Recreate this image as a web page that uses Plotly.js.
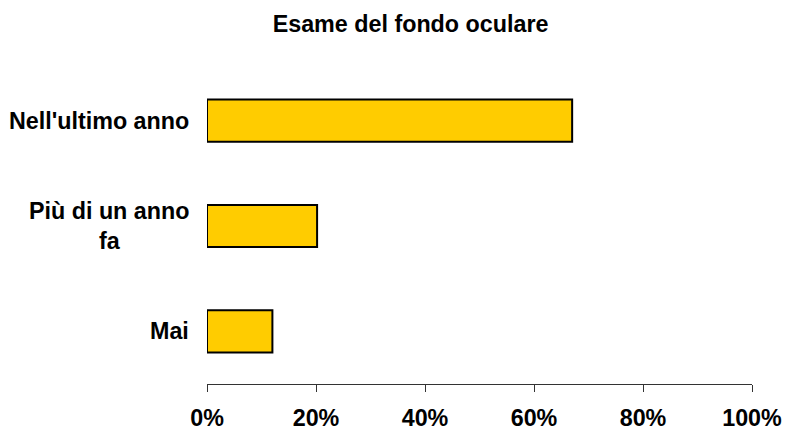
<!DOCTYPE html>
<html>
<head>
<meta charset="utf-8">
<script src="https://cdn.plot.ly/plotly-3.0.1.min.js"></script>
<style>html,body{margin:0;padding:0;background:#fff;}#chart{width:785px;height:430px;}</style>
</head>
<body>
<div id="chart"></div>
<script>
var chartTitle = "Esame del fondo oculare";
var categories = ["Nell'ultimo anno", "Più di un anno<br>fa", "Mai"];
var values = [67, 20.2, 12];
var tickValues = [0, 20, 40, 60, 80, 100];
var tickLabels = ["0%", "20%", "40%", "60%", "80%", "100%"];

var FONT = "Liberation Sans, Arial, sans-serif";
var FS = 23.3;

var trace = {
  type: "bar",
  orientation: "h",
  x: values,
  y: categories,
  width: 0.4,
  marker: {color: "#FFCC00", line: {color: "#000000", width: 2}},
  hoverinfo: "none"
};

var annotations = categories.map(function (c) {
  return {
    xref: "paper", yref: "y", x: 0, y: c, xanchor: "right", yanchor: "middle",
    xshift: -16, text: "<b>" + c + "</b>", showarrow: false, align: "center",
    font: {family: FONT, size: FS, color: "#000"}
  };
});

var layout = {
  width: 785, height: 430,
  margin: {l: 207, r: 33, t: 68, b: 46, pad: 0},
  paper_bgcolor: "#fff", plot_bgcolor: "#fff",
  showlegend: false,
  title: {text: "<b>" + chartTitle + "</b>", x: 0.523, xanchor: "center", y: 0.945, yanchor: "middle",
          font: {family: FONT, size: FS, color: "#000"}},
  xaxis: {
    range: [0, 100], tickvals: tickValues, ticktext: tickLabels.map(function (t) { return "<b>" + t + "</b>"; }),
    showline: true, linecolor: "#333", linewidth: 1, ticks: "outside", ticklen: 7, tickcolor: "#333", tickwidth: 1,
    ticklabelstandoff: 6,
    showgrid: false, zeroline: false, fixedrange: true,
    tickfont: {family: FONT, size: FS, color: "#000"}
  },
  yaxis: {
    type: "category", categoryorder: "array", categoryarray: categories,
    autorange: "reversed", range: [2.5, -0.5],
    showticklabels: false, showline: false, ticks: "", showgrid: false, zeroline: false, fixedrange: true
  },
  annotations: annotations
};

Plotly.newPlot("chart", [trace], layout, {displayModeBar: false, staticPlot: true});
</script>
</body>
</html>
